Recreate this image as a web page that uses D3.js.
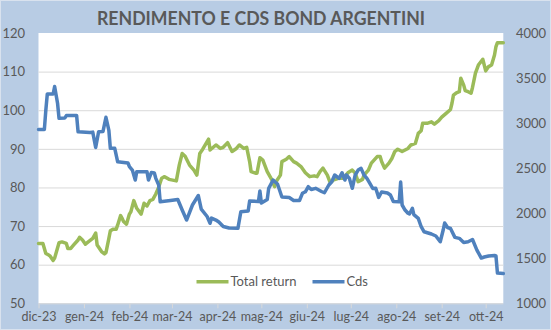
<!DOCTYPE html>
<html><head><meta charset="utf-8">
<script src="https://cdn.jsdelivr.net/npm/d3@7"></script>
<style>
html,body{margin:0;padding:0;background:#b8cce4;}
svg{display:block;}
text{font-family:Lato,"Liberation Sans",sans-serif;fill:#595959;}
</style></head>
<body><svg id="c" width="551" height="330"></svg>
<script>
const title = "RENDIMENTO E CDS BOND ARGENTINI";
const seriesNames = ["Total return", "Cds"];
const leftTicks = [50,60,70,80,90,100,110,120];
const rightTicks = [1000,1500,2000,2500,3000,3500,4000];
const monthTicks = ["2023-12-01","2024-01-01","2024-02-01","2024-03-01","2024-04-01","2024-05-01","2024-06-01","2024-07-01","2024-08-01","2024-09-01","2024-10-01"];
const monthLabels = ["dic-23","gen-24","feb-24","mar-24","apr-24","mag-24","giu-24","lug-24","ago-24","set-24","ott-24"];

const trDates = ["2023-12-01","2023-12-04","2023-12-06","2023-12-08","2023-12-09","2023-12-11","2023-12-12","2023-12-15","2023-12-17","2023-12-20","2023-12-21","2023-12-23","2023-12-25","2023-12-28","2023-12-29","2023-12-31","2024-01-02","2024-01-05","2024-01-07","2024-01-09","2024-01-10","2024-01-13","2024-01-15","2024-01-16","2024-01-18","2024-01-19","2024-01-21","2024-01-23","2024-01-24","2024-01-26","2024-01-27","2024-01-28","2024-01-30","2024-02-01","2024-02-02","2024-02-04","2024-02-06","2024-02-09","2024-02-11","2024-02-13","2024-02-15","2024-02-17","2024-02-19","2024-02-21","2024-02-23","2024-02-25","2024-02-28","2024-03-04","2024-03-06","2024-03-08","2024-03-10","2024-03-13","2024-03-16","2024-03-18","2024-03-20","2024-03-22","2024-03-26","2024-03-27","2024-03-31","2024-04-03","2024-04-05","2024-04-08","2024-04-11","2024-04-14","2024-04-16","2024-04-19","2024-04-21","2024-04-23","2024-04-24","2024-04-27","2024-04-28","2024-04-30","2024-05-02","2024-05-05","2024-05-08","2024-05-10","2024-05-11","2024-05-14","2024-05-15","2024-05-18","2024-05-20","2024-05-23","2024-05-25","2024-05-28","2024-05-31","2024-06-03","2024-06-06","2024-06-08","2024-06-10","2024-06-12","2024-06-15","2024-06-17","2024-06-19","2024-06-23","2024-06-26","2024-06-29","2024-07-02","2024-07-04","2024-07-06","2024-07-09","2024-07-10","2024-07-13","2024-07-15","2024-07-19","2024-07-21","2024-07-22","2024-07-24","2024-07-27","2024-07-29","2024-07-31","2024-08-02","2024-08-05","2024-08-07","2024-08-09","2024-08-11","2024-08-14","2024-08-16","2024-08-18","2024-08-19","2024-08-22","2024-08-25","2024-08-27","2024-08-30","2024-09-01","2024-09-04","2024-09-07","2024-09-08","2024-09-09","2024-09-11","2024-09-13","2024-09-14","2024-09-16","2024-09-17","2024-09-19","2024-09-21","2024-09-22","2024-09-24","2024-09-26","2024-09-29","2024-09-30","2024-10-01","2024-10-03","2024-10-05","2024-10-07","2024-10-08","2024-10-09","2024-10-13"];
const trValues = [65.5,65.5,62.9,62.5,62.2,61.1,61.7,65.7,65.9,65.5,64.2,64.2,65.1,66.4,67.1,66.4,65.3,66.2,66.8,68.2,65.1,63.4,62.8,63.1,66.8,68.8,69.2,69.2,70.3,72.7,72.0,71.2,70.5,73.1,73.7,76.6,74.6,73.1,75.9,75.2,76.6,76.9,78.3,80.1,82.4,82.8,82.1,81.7,85.8,88.8,88.1,85.8,84.5,83.2,88.8,89.9,92.5,89.7,91.0,90.1,90.4,91.6,89.3,90.1,91.0,90.1,90.4,86.7,84.1,83.7,83.7,87.7,87.1,84.1,82.1,80.2,81.5,83.2,86.7,87.3,88.0,86.7,86.3,85.4,83.8,82.8,83.0,82.8,84.1,85.0,83.2,81.2,81.9,82.4,82.4,83.8,84.5,83.7,81.5,82.1,83.2,84.5,86.3,88.0,88.0,86.7,85.0,86.3,87.5,89.3,89.9,89.3,89.7,90.1,91.0,91.4,94.0,94.7,96.6,96.6,97.0,96.4,97.3,98.2,99.2,100.2,101.8,103.9,104.5,104.8,108.3,106.5,105.1,104.8,104.4,105.9,109.6,111.7,113.2,111.7,110.2,111.3,111.7,114.3,116.5,117.5,117.5];

const cdsDates = ["2023-12-01","2023-12-05","2023-12-06","2023-12-07","2023-12-11","2023-12-12","2023-12-14","2023-12-15","2023-12-19","2023-12-20","2023-12-27","2023-12-28","2024-01-05","2024-01-07","2024-01-09","2024-01-11","2024-01-14","2024-01-16","2024-01-18","2024-01-19","2024-01-22","2024-01-24","2024-01-31","2024-02-01","2024-02-03","2024-02-05","2024-02-06","2024-02-13","2024-02-14","2024-02-16","2024-02-18","2024-02-19","2024-02-21","2024-02-22","2024-02-29","2024-03-05","2024-03-08","2024-03-11","2024-03-15","2024-03-19","2024-03-21","2024-03-25","2024-03-27","2024-03-28","2024-03-31","2024-04-02","2024-04-05","2024-04-09","2024-04-15","2024-04-17","2024-04-22","2024-04-23","2024-04-29","2024-04-30","2024-05-01","2024-05-05","2024-05-06","2024-05-09","2024-05-10","2024-05-12","2024-05-15","2024-05-20","2024-05-23","2024-05-27","2024-05-29","2024-05-31","2024-06-02","2024-06-04","2024-06-07","2024-06-11","2024-06-13","2024-06-16","2024-06-18","2024-06-20","2024-06-23","2024-06-25","2024-06-27","2024-06-28","2024-06-30","2024-07-02","2024-07-04","2024-07-06","2024-07-08","2024-07-10","2024-07-12","2024-07-14","2024-07-16","2024-07-18","2024-07-20","2024-07-22","2024-07-26","2024-07-28","2024-07-30","2024-08-03","2024-08-04","2024-08-05","2024-08-07","2024-08-09","2024-08-10","2024-08-12","2024-08-13","2024-08-16","2024-08-18","2024-08-20","2024-08-25","2024-08-28","2024-08-31","2024-09-02","2024-09-03","2024-09-05","2024-09-07","2024-09-10","2024-09-13","2024-09-16","2024-09-19","2024-09-22","2024-09-25","2024-09-28","2024-09-30","2024-10-03","2024-10-07","2024-10-08","2024-10-09","2024-10-13"];
const cdsValues = [2930,2930,3145,3323,3323,3406,3220,3053,3057,3084,3084,2904,2895,2900,2729,2904,2907,3064,2918,2720,2720,2571,2557,2518,2479,2368,2460,2460,2368,2452,2446,2387,2313,2127,2141,2152,2035,1924,2091,2196,2046,1963,1888,1946,1924,1902,1852,1836,1832,2016,2024,2135,2130,2246,2113,2152,2276,2368,2352,2324,2180,2174,2141,2141,2221,2238,2294,2263,2276,2241,2227,2313,2349,2424,2387,2449,2368,2424,2387,2276,2424,2479,2498,2424,2387,2332,2274,2276,2176,2235,2224,2202,2130,2127,2346,2091,2035,1999,1991,2054,1985,1943,1850,1794,1769,1747,1683,1813,1891,1841,1830,1732,1721,1675,1683,1708,1591,1502,1514,1525,1530,1525,1336,1330];

const colors = {tr:"#9bbb59", cds:"#4f81bd"};
const P = {l:38.5, r:503.3, t:33, b:303.3};
const parse = d3.utcParse("%Y-%m-%d");
const FONT = "Lato, 'Liberation Sans', sans-serif";

const svg = d3.select("#c");
svg.append("rect").attr("x",0.5).attr("y",0.5).attr("width",550).attr("height",329).attr("fill","#b8cce4").attr("stroke","#d9e2ee");
svg.append("rect").attr("x",P.l).attr("y",P.t).attr("width",P.r-P.l).attr("height",P.b-P.t).attr("fill","#fff");

const x = d3.scaleUtc().domain([parse("2023-12-01"), parse("2024-10-13")]).range([P.l, P.r]);
const yL = d3.scaleLinear().domain([50,120]).range([P.b, P.t]);
const yR = d3.scaleLinear().domain([1000,4000]).range([P.b, P.t]);

// gridlines
svg.append("g").attr("transform",`translate(${P.l},0)`)
  .call(d3.axisLeft(yL).tickValues(leftTicks.filter(v=>v>50 && v<120)).tickSize(-(P.r-P.l)).tickFormat(""))
  .call(g=>{g.select(".domain").remove(); g.selectAll("line").attr("stroke","#d9d9d9").attr("stroke-width",1);});

// left labels
svg.append("g").attr("transform",`translate(${P.l},0)`)
  .call(d3.axisLeft(yL).tickValues(leftTicks).tickFormat(d3.format("d")).tickSize(0).tickPadding(13.5))
  .call(g=>{g.select(".domain").remove(); g.selectAll("text").attr("font-size",13).attr("fill","#595959").style("font-family",FONT);});
// right labels
svg.append("g").attr("transform",`translate(${P.r},0)`)
  .call(d3.axisRight(yR).tickValues(rightTicks).tickFormat(d3.format("d")).tickSize(0).tickPadding(12.7))
  .call(g=>{g.select(".domain").remove(); g.selectAll("text").attr("font-size",13).attr("fill","#595959").style("font-family",FONT);});

// x axis
svg.append("g").attr("transform",`translate(0,${P.b})`)
  .call(d3.axisBottom(x).tickValues(monthTicks.map(parse)).tickSize(5).tickPadding(4).tickFormat((d,i)=>monthLabels[i]))
  .call(g=>{g.select(".domain").attr("stroke","#d9d9d9").attr("d",`M${P.l},0.5H${P.r}`); g.selectAll("line").attr("stroke","#d9d9d9");
    g.selectAll("text").attr("font-size",12.5).attr("fill","#595959").style("font-family",FONT);});

const tr = trDates.map((d,i)=>({d:parse(d), v:trValues[i]}));
const cds = cdsDates.map((d,i)=>({d:parse(d), v:cdsValues[i]}));

svg.append("path").datum(tr).attr("fill","none").attr("stroke",colors.tr).attr("stroke-width",3.5)
  .attr("stroke-linejoin","round").attr("stroke-linecap","round")
  .attr("d", d3.line().x(p=>x(p.d)).y(p=>yL(p.v)));
svg.append("path").datum(cds).attr("fill","none").attr("stroke",colors.cds).attr("stroke-width",3.5)
  .attr("stroke-linejoin","round").attr("stroke-linecap","round")
  .attr("d", d3.line().x(p=>x(p.d)).y(p=>yR(p.v)));

// title
svg.append("text").attr("x",261).attr("y",24.5).attr("text-anchor","middle")
  .attr("font-size",19.5).attr("font-weight","bold").attr("fill","#595959")
  .attr("textLength",328).attr("lengthAdjust","spacingAndGlyphs").text(title);

// legend
const lg = svg.append("g");
const items = [{name:seriesNames[0], c:colors.tr, x0:196.5}, {name:seriesNames[1], c:colors.cds, x0:312.5}];
items.forEach(it=>{
  lg.append("line").attr("x1",it.x0).attr("x2",it.x0+32).attr("y1",281.7).attr("y2",281.7).attr("stroke",it.c).attr("stroke-width",3.5);
  lg.append("text").attr("x",it.x0+34).attr("y",281.7).attr("dy","0.35em").attr("font-size",13).attr("fill","#595959").text(it.name);
});
</script></body></html>
